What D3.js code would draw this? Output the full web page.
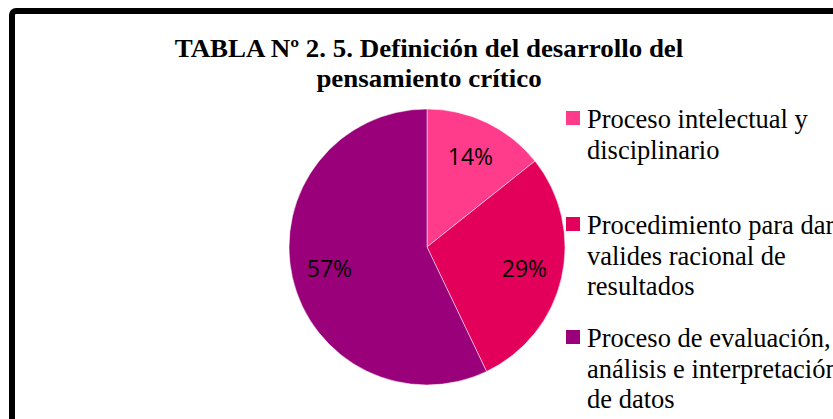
<!DOCTYPE html>
<html>
<head>
<meta charset="utf-8">
<script src="https://cdn.jsdelivr.net/npm/d3@7"></script>
<style>
  html, body { margin: 0; padding: 0; background: #fff; overflow: hidden; }
  svg { display: block; }
</style>
</head>
<body>
<svg id="chart" width="833" height="419"></svg>
<script>
const titleLines = ["TABLA Nº 2. 5. Definición del desarrollo del", "pensamiento crítico"];
const categories = [
  ["Proceso intelectual y", "disciplinario"],
  ["Procedimiento para dar", "valides racional de", "resultados"],
  ["Proceso de evaluación,", "análisis e interpretación", "de datos"]
];
const values = [14.3, 28.6, 57.1];
const labels = ["14%", "29%", "57%"];
const colors = ["#FF3C8C", "#E2005A", "#9A007A"];

const svg = d3.select("#chart");

// outer border (clipped by viewport on right/bottom)
svg.append("rect")
  .attr("x", 12).attr("y", 11)
  .attr("width", 900).attr("height", 500)
  .attr("rx", 4)
  .attr("fill", "#fff")
  .attr("stroke", "#000")
  .attr("stroke-width", 6);

// title
const titleCx = 429;
const title = svg.append("text")
  .attr("text-anchor", "middle")
  .attr("transform", `translate(${titleCx},0) scale(1.1,1)`)
  .attr("font-family", "'Liberation Serif', 'Times New Roman', serif")
  .attr("font-weight", "bold")
  .attr("font-size", 24.5)
  .attr("fill", "#000");
titleLines.forEach((t, i) => {
  title.append("tspan").attr("x", 0).attr("y", 57 + i * 30).text(t);
});

// pie
const cx = 427, cy = 247, R = 138;
const pie = d3.pie().sort(null).value(d => d);
const arcs = pie(values);
const arc = d3.arc().innerRadius(0).outerRadius(R);
const labelArc = d3.arc().innerRadius(100).outerRadius(100);

const g = svg.append("g").attr("transform", `translate(${cx},${cy})`);
g.selectAll("path.slice")
  .data(arcs)
  .join("path")
  .attr("class", "slice")
  .attr("d", arc)
  .attr("fill", (d, i) => colors[i])
  .attr("stroke", "#fff")
  .attr("stroke-width", 0.5);

g.selectAll("text.lbl")
  .data(arcs)
  .join("text")
  .attr("class", "lbl")
  .attr("transform", d => { const c = labelArc.centroid(d); return `translate(${c[0]},${c[1]})`; })
  .attr("text-anchor", "middle")
  .attr("dy", "0.35em")
  .attr("font-family", "'Open Sans', sans-serif")
  .attr("font-size", 23)
  .attr("fill", "#000")
  .text((d, i) => labels[i]);

// legend
const legendY = [128, 234, 347];
const lineH = 30.5;
const legend = svg.append("g");
categories.forEach((lines, i) => {
  legend.append("rect")
    .attr("x", 566).attr("y", legendY[i] - 17)
    .attr("width", 14).attr("height", 14)
    .attr("fill", colors[i]);
  const t = legend.append("text")
    .attr("font-family", "'Liberation Serif', 'Times New Roman', serif")
    .attr("font-size", 26.5)
    .attr("fill", "#000");
  lines.forEach((l, j) => {
    t.append("tspan").attr("x", 587).attr("y", legendY[i] + j * lineH).text(l);
  });
});
</script>
</body>
</html>
